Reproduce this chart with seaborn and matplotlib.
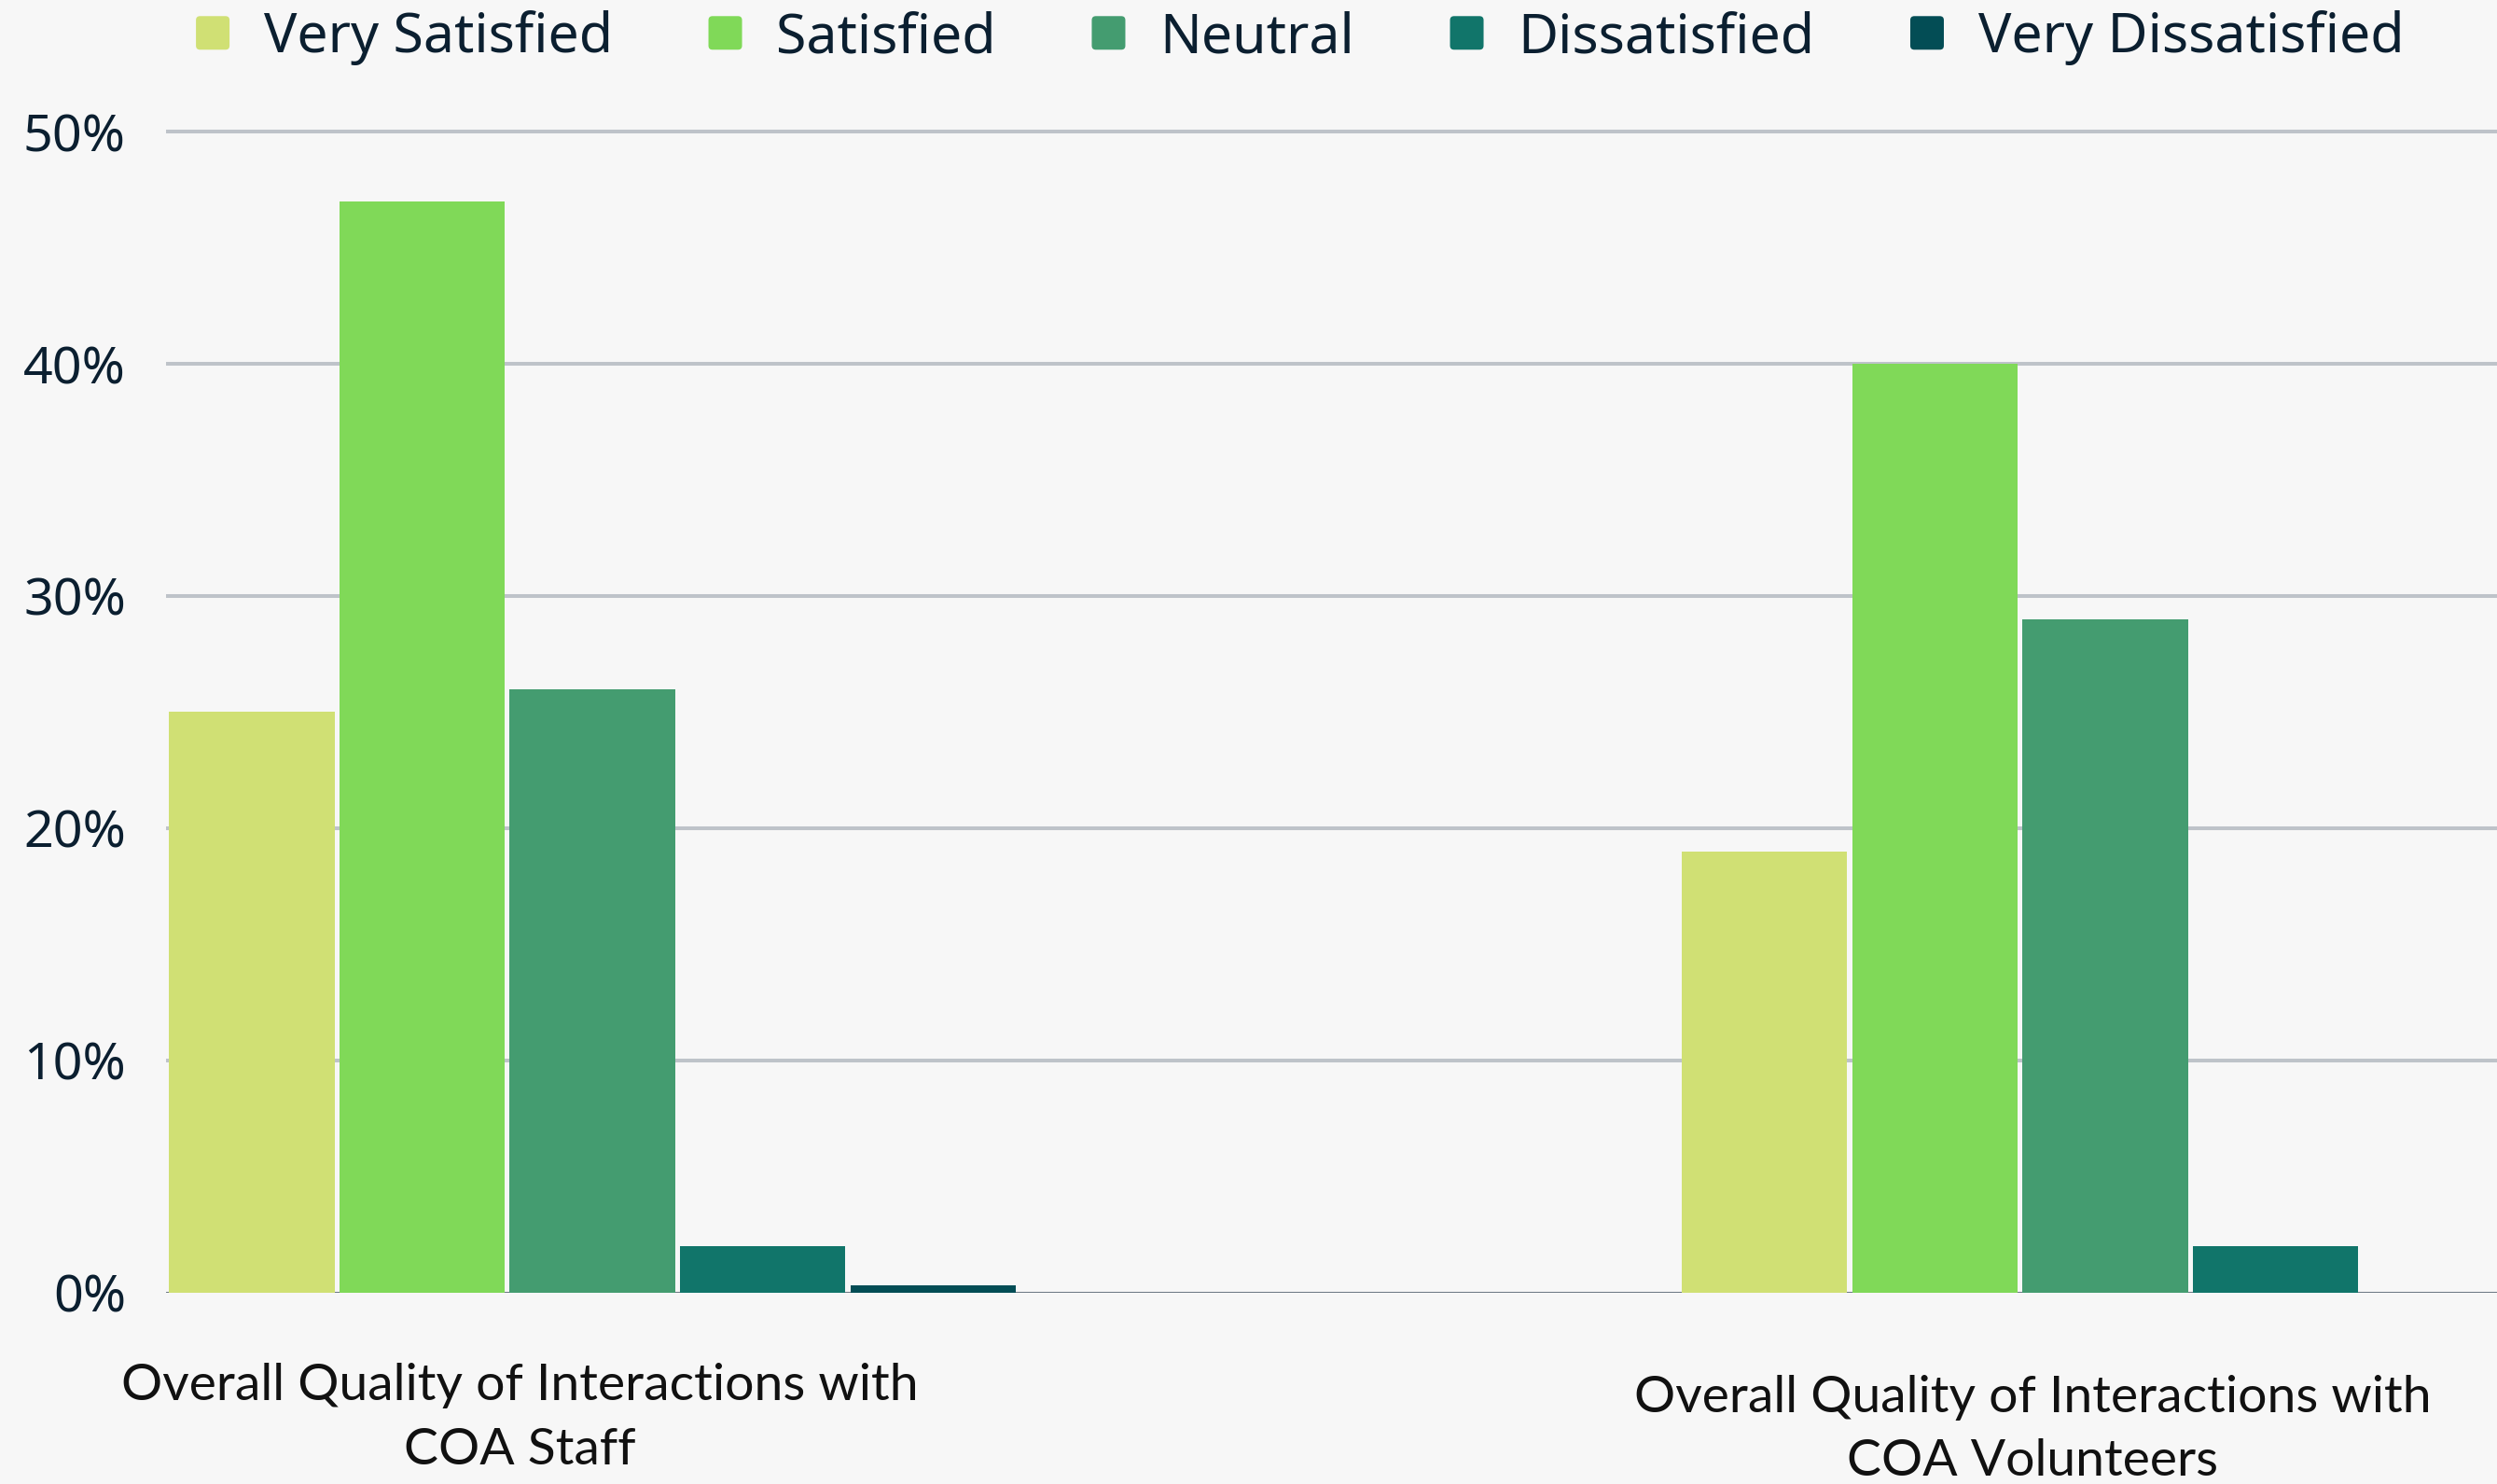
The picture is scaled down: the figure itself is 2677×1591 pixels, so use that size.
import matplotlib
matplotlib.use("Agg")
import matplotlib.pyplot as plt
import matplotlib.transforms as mtransforms
from matplotlib.patches import FancyBboxPatch
from matplotlib.legend_handler import HandlerPatch
import seaborn as sns
import pandas as pd

# Survey items (x categories) and response levels (hue)
items = ["COA Staff", "COA Volunteers"]
item_prefix = "Overall Quality of Interactions with"
levels = ["Very Satisfied", "Satisfied", "Neutral", "Dissatisfied", "Very Dissatisfied"]

# Percent of respondents per level
staff_pct = [25, 47, 26, 2, 0.3]
volunteer_pct = [19, 40, 29, 2, 0]

yticks = [0, 10, 20, 30, 40, 50]
ytick_labels = ["0%", "10%", "20%", "30%", "40%", "50%"]

colors = ["#D0E074", "#80D958", "#449C70", "#11756A", "#034D55"]
bg = "#F7F7F7"
text_dark = "#0B1F30"

df = pd.DataFrame({
    "item": [items[0]] * len(levels) + [items[1]] * len(levels),
    "level": levels * 2,
    "pct": staff_pct + volunteer_pct,
})

sns.set_theme(style="white")
plt.rcParams["font.family"] = ["Noto Sans", "DejaVu Sans"]

fig = plt.figure(figsize=(26.77, 15.91), dpi=100, facecolor=bg)
ax = fig.add_axes([0.0665, 0.1289, 0.9335, 0.7981])
ax.set_facecolor(bg)

sns.barplot(data=df, x="item", y="pct", hue="level", order=items,
            hue_order=levels, palette=colors, saturation=1,
            width=0.563, gap=0.028, edgecolor="none", linewidth=0,
            legend=True, ax=ax, zorder=2)

ax.set_xlim(-0.2818, 1.259)
ax.set_ylim(0, 51)
ax.set_yticks(yticks)
ax.set_yticklabels(ytick_labels)
ax.tick_params(axis="y", length=0, pad=31, labelsize=40, labelcolor=text_dark)
ax.tick_params(axis="x", length=0, labelbottom=False)
ax.set_xlabel("")
ax.set_ylabel("")
for lbl in ax.get_yticklabels():
    lbl.set_fontweight("medium")

for s in ax.spines.values():
    s.set_visible(False)

# Horizontal gridlines and darker baseline
for yv in yticks[1:]:
    ax.axhline(yv, color="#BEC3C9", lw=2.9, zorder=0.5)
ax.axhline(0, color="#6E7A86", lw=2.2, zorder=1)

# Category labels below the groups
trans = mtransforms.blended_transform_factory(ax.transData, fig.transFigure)
label_y = [0.0815, 0.0735]
for i, (name, yy) in enumerate(zip(items, label_y)):
    ax.text(i - 0.048, yy, f"{item_prefix}\n{name}", transform=trans,
            ha="center", va="top", fontsize=39.8, color="#111111",
            family=["Lato", "DejaVu Sans"], linespacing=1.48, clip_on=False)

# Legend with rounded square markers across the top
handles, labels = ax.get_legend_handles_labels()
ax.legend_.remove()


class RoundSquare(HandlerPatch):
    def create_artists(self, legend, orig_handle, xdescent, ydescent,
                       width, height, fontsize, trans):
        side = min(width, height)
        p = FancyBboxPatch((-xdescent + (width - side) / 2, -ydescent + (height - side) / 2),
                           side, side, boxstyle="round,pad=0,rounding_size=%f" % (side * 0.12),
                           facecolor=orig_handle.get_facecolor(), edgecolor="none",
                           transform=trans)
        return [p]


leg = fig.legend(handles, labels, loc="center", bbox_to_anchor=(0.5206, 0.9745),
                 ncol=5, frameon=False, fontsize=42.5, handlelength=0.61,
                 handleheight=0.61, handletextpad=0.62, columnspacing=1.74,
                 handler_map={h: RoundSquare() for h in handles})
for t in leg.get_texts():
    t.set_color(text_dark)
    t.set_fontweight("medium")

fig.savefig("out.png", dpi=100, facecolor=bg)
